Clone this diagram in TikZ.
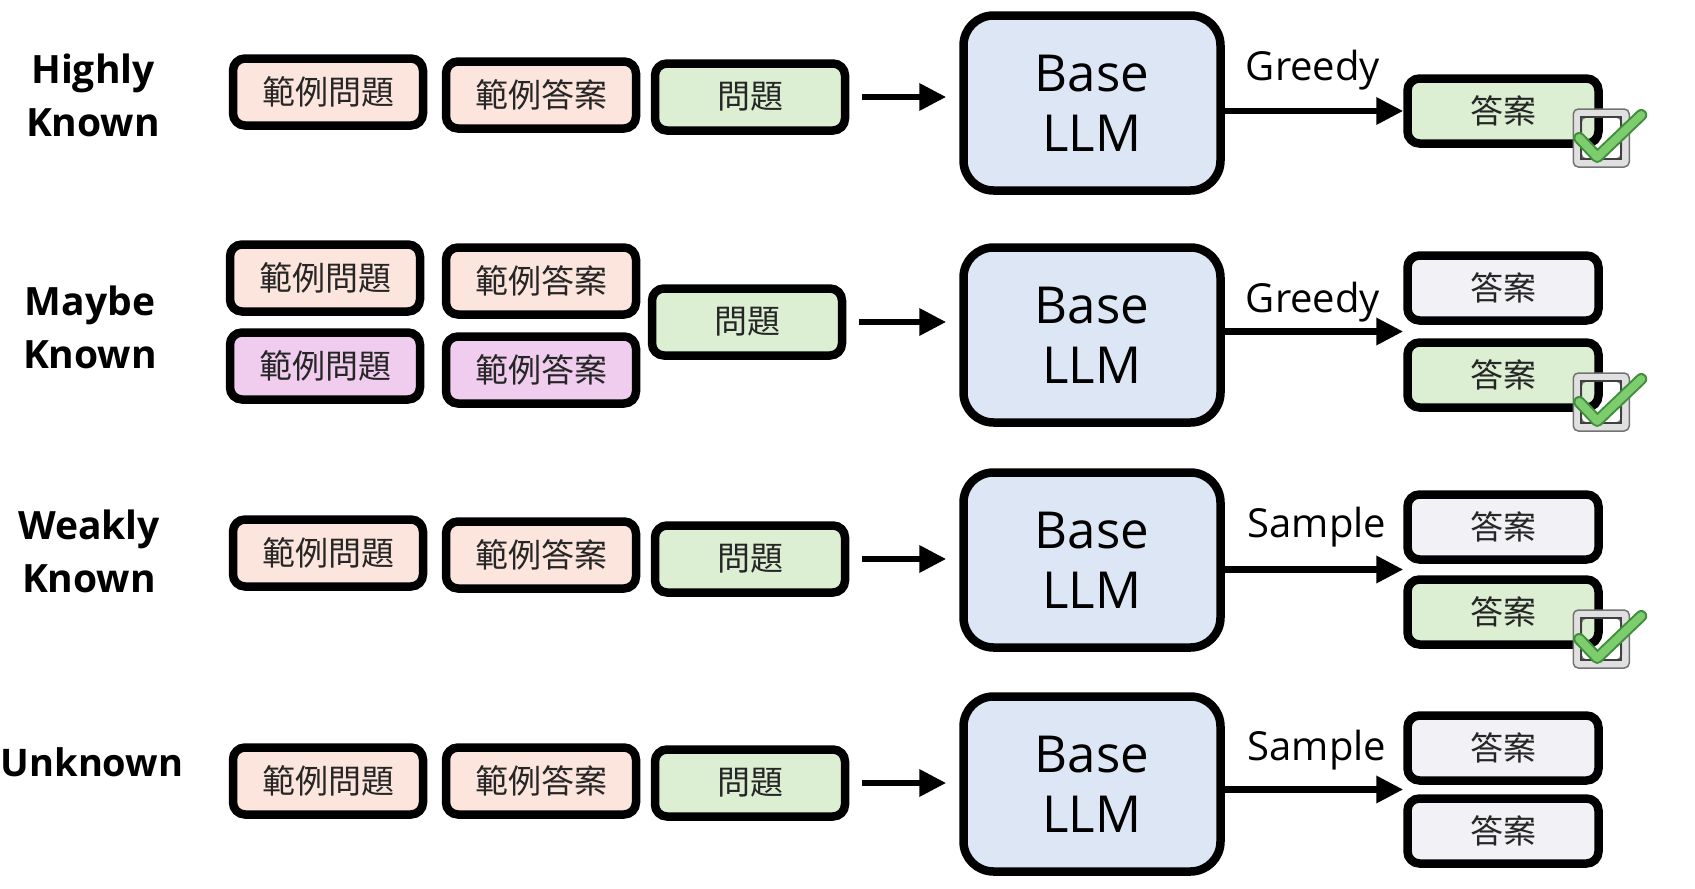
\documentclass[tikz,border=0pt]{standalone}
\usepackage{fontspec}
\setmainfont{Open Sans}
\newfontfamily\cjk{Noto Sans CJK TC}
\usetikzlibrary{arrows.meta}
\definecolor{exq}{HTML}{FCE5DC}
\definecolor{exqb}{HTML}{F0CDEE}
\definecolor{qgreen}{HTML}{DCEFD3}
\definecolor{llmblue}{HTML}{DCE6F5}
\definecolor{ansgray}{HTML}{F2F1F5}
\definecolor{tickgreen}{HTML}{7DCD6E}
\definecolor{tickdark}{HTML}{3E8E3A}
\tikzset{
    blk/.style={draw, line width=8.5pt, rounded corners=12pt, minimum width=190pt, minimum height=67pt,
        inner sep=0pt, text=black!85, font=\cjk\fontsize{33}{40}\selectfont},
    ans/.style={blk, minimum width=191pt, minimum height=65pt},
    llm/.style={draw, line width=8.5pt, rounded corners=30pt, fill=llmblue, minimum width=257pt,
        minimum height=175pt, align=center, font=\fontsize{51}{60}\selectfont},
    lvl/.style={align=center, font=\bfseries\fontsize{39}{53}\selectfont},
    how/.style={font=\fontsize{40}{48}\selectfont},
    flow/.style={line width=6.5pt, -{Triangle[length=27pt,width=26pt]}},
    okmark/.pic={
        \filldraw [fill=black!12, draw=black!55, line width=1.5pt, rounded corners=5pt, even odd rule]
            (-28,-29) rectangle (28,29) (-20,-21) rectangle (20,21);
        \draw [black!75, line width=2pt] (-20,-21) rectangle (20,21);
        \draw [tickdark, line width=12pt, line cap=round, line join=round] (-22,0) -- (-4,19) -- (40,-23);
        \draw [tickgreen, line width=8pt, line cap=round, line join=round] (-22,0) -- (-4,19) -- (40,-23);
    }
}
\begin{document}
\begin{tikzpicture}[x=1pt, y=-1pt]
    \useasboundingbox (0,0) rectangle (1695,889);

    \node [lvl] (lv1) at (93,95) {Highly\\Known};
    \node [blk, fill=exq] (e1q) at (328,92) {範例問題};
    \node [blk, fill=exq] (e1a) at (541,95) {範例答案};
    \node [blk, fill=qgreen] (q1) at (750,97) {問題};
    \node [llm] (m1) at (1092,103) {Base\\LLM};
    \node [how] (g1) at (1313,70) {Greedy};
    \node [ans, fill=qgreen] (a1) at (1503,111) {答案};
    \draw [flow, shorten <=13pt, shorten >=13pt] (q1) -- (m1.west |- q1);
    \draw [flow] (m1.east |- a1) -- (a1.west);
    \path (a1.east) ++(-1.5,27) pic {okmark};

    \node [lvl] (lv2) at (90,327) {Maybe\\Known};
    \node [blk, fill=exq] (e2q) at (325,278) {範例問題};
    \node [blk, fill=exq] (e2a) at (541,281) {範例答案};
    \node [blk, fill=exqb] (f2q) at (325,366) {範例問題};
    \node [blk, fill=exqb] (f2a) at (541,370) {範例答案};
    \node [blk, fill=qgreen] (q2) at (747,322) {問題};
    \node [llm] (m2) at (1092,335) {Base\\LLM};
    \node [how] (g2) at (1313,302) {Greedy};
    \node [ans, fill=ansgray] (a2u) at (1503,288) {答案};
    \node [ans, fill=qgreen] (a2d) at (1503,375) {答案};
    \path (a2u.south west) -- (a2d.north west) coordinate [midway] (t2);
    \draw [flow, shorten <=13pt, shorten >=13pt] (q2) -- (m2.west |- q2);
    \draw [flow] (m2.east |- t2) -- (t2);
    \path (a2d.east) ++(-1.5,27) pic {okmark};

    \node [lvl] (lv3) at (89,551) {Weakly\\Known};
    \node [blk, fill=exq] (e3q) at (328,553) {範例問題};
    \node [blk, fill=exq] (e3a) at (541,555) {範例答案};
    \node [blk, fill=qgreen] (q3) at (750,559) {問題};
    \node [llm] (m3) at (1092,560) {Base\\LLM};
    \node [how] (g3) at (1317,527) {Sample};
    \node [ans, fill=ansgray] (a3u) at (1503,527) {答案};
    \node [ans, fill=qgreen] (a3d) at (1503,612) {答案};
    \path (a3u.south west) -- (a3d.north west) coordinate [midway] (t3);
    \draw [flow, shorten <=13pt, shorten >=13pt] (q3) -- (m3.west |- q3);
    \draw [flow] (m3.east |- t3) -- (t3);
    \path (a3d.east) ++(-1.5,27) pic {okmark};

    \node [lvl, font=\bfseries\fontsize{38}{50}\selectfont] (lv4) at (92,762) {Unknown};
    \node [blk, fill=exq] (e4q) at (328,781) {範例問題};
    \node [blk, fill=exq] (e4a) at (541,781) {範例答案};
    \node [blk, fill=qgreen] (q4) at (750,783) {問題};
    \node [llm] (m4) at (1092,784) {Base\\LLM};
    \node [how] (g4) at (1317,750) {Sample};
    \node [ans, fill=ansgray] (a4u) at (1503,748) {答案};
    \node [ans, fill=ansgray] (a4d) at (1503,831) {答案};
    \path (a4u.south west) -- (a4d.north west) coordinate [midway] (t4);
    \draw [flow, shorten <=13pt, shorten >=13pt] (q4) -- (m4.west |- q4);
    \draw [flow] (m4.east |- t4) -- (t4);
\end{tikzpicture}
\end{document}
